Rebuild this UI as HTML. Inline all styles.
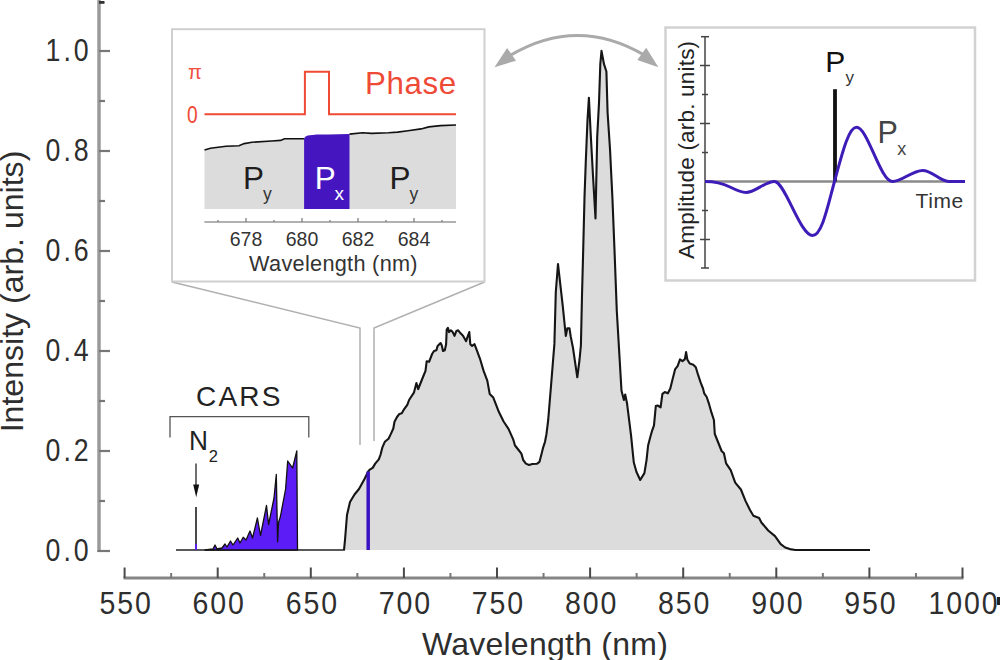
<!DOCTYPE html>
<html><head><meta charset="utf-8">
<style>
html,body{margin:0;padding:0;background:#fff;width:1000px;height:660px;overflow:hidden;}
svg{display:block;}
text{font-family:"Liberation Sans", sans-serif;}
</style></head>
<body>
<svg width="1000" height="660" viewBox="0 0 1000 660">
<rect x="0" y="0" width="1000" height="660" fill="#fff"/>

<!-- ===== main y axis ===== -->
<g id="yaxis">
<line x1="99" y1="0" x2="99" y2="552" stroke="#9a9a9a" stroke-width="3.5"/>
<rect x="99" y="1" width="5.5" height="2.8" fill="#333"/>
<g stroke="#777" stroke-width="2.2">
<line x1="99" y1="51" x2="110" y2="51"/>
<line x1="99" y1="151" x2="110" y2="151"/>
<line x1="99" y1="251" x2="110" y2="251"/>
<line x1="99" y1="351" x2="110" y2="351"/>
<line x1="99" y1="451" x2="110" y2="451"/>
<line x1="97.5" y1="551" x2="110" y2="551"/>
<line x1="99" y1="101" x2="105" y2="101"/>
<line x1="99" y1="201" x2="105" y2="201"/>
<line x1="99" y1="301" x2="105" y2="301"/>
<line x1="99" y1="401" x2="105" y2="401"/>
<line x1="99" y1="501" x2="105" y2="501"/>
</g>
<g font-size="32" fill="#2e2e2e" text-anchor="end" letter-spacing="3.5">
<text transform="translate(91.5,61) scale(0.835,1)">1.0</text>
<text transform="translate(91.5,161) scale(0.835,1)">0.8</text>
<text transform="translate(91.5,261) scale(0.835,1)">0.6</text>
<text transform="translate(91.5,361) scale(0.835,1)">0.4</text>
<text transform="translate(91.5,461) scale(0.835,1)">0.2</text>
<text transform="translate(91.5,561) scale(0.835,1)">0.0</text>
</g>
<text transform="translate(23,291.5) rotate(-90)" font-size="32.1" fill="#2e2e2e" text-anchor="middle">Intensity (arb. units)</text>
</g>

<!-- ===== main x axis ===== -->
<g id="xaxis">
<line x1="123.5" y1="578" x2="963.5" y2="578" stroke="#858585" stroke-width="3.2"/>
<g stroke="#4a4a4a" stroke-width="2">
<line x1="124.6" y1="567.5" x2="124.6" y2="578"/>
<line x1="217.7" y1="567.5" x2="217.7" y2="578"/>
<line x1="310.8" y1="567.5" x2="310.8" y2="578"/>
<line x1="403.9" y1="567.5" x2="403.9" y2="578"/>
<line x1="497" y1="567.5" x2="497" y2="578"/>
<line x1="590.1" y1="567.5" x2="590.1" y2="578"/>
<line x1="683.2" y1="567.5" x2="683.2" y2="578"/>
<line x1="776.3" y1="567.5" x2="776.3" y2="578"/>
<line x1="869.4" y1="567.5" x2="869.4" y2="578"/>
<line x1="962.5" y1="567.5" x2="962.5" y2="578"/>
</g>
<g stroke="#777" stroke-width="2">
<line x1="171.15" y1="573" x2="171.15" y2="578"/>
<line x1="264.25" y1="573" x2="264.25" y2="578"/>
<line x1="357.35" y1="573" x2="357.35" y2="578"/>
<line x1="450.45" y1="573" x2="450.45" y2="578"/>
<line x1="543.55" y1="573" x2="543.55" y2="578"/>
<line x1="636.65" y1="573" x2="636.65" y2="578"/>
<line x1="729.75" y1="573" x2="729.75" y2="578"/>
<line x1="822.85" y1="573" x2="822.85" y2="578"/>
<line x1="915.95" y1="573" x2="915.95" y2="578"/>
</g>
<g font-size="31.5" fill="#2e2e2e" text-anchor="middle" letter-spacing="2.1">
<text transform="translate(126.1,614) scale(0.905,1)">550</text>
<text transform="translate(219.2,614) scale(0.905,1)">600</text>
<text transform="translate(312.3,614) scale(0.905,1)">650</text>
<text transform="translate(405.4,614) scale(0.905,1)">700</text>
<text transform="translate(498.5,614) scale(0.905,1)">750</text>
<text transform="translate(591.6,614) scale(0.905,1)">800</text>
<text transform="translate(684.7,614) scale(0.905,1)">850</text>
<text transform="translate(777.8,614) scale(0.905,1)">900</text>
<text transform="translate(870.9,614) scale(0.905,1)">950</text>
<text transform="translate(964.0,614) scale(0.905,1)">1000</text>
</g>
<rect x="997" y="597" width="3" height="8" fill="#222"/>
<text x="545" y="654.5" font-size="32" letter-spacing="0.25" fill="#2e2e2e" text-anchor="middle">Wavelength (nm)</text>
</g>

<!-- ===== main spectrum ===== -->
<path id="mainfill" fill="#dcdcdc" stroke="none" d="M344 550 L345 540 L347 515 L350 502 L354.5 494.5 L359 489 L364.5 479 L368.2 471.5 L369.7 469.7 L372.7 467.9 L375.2 463.6 L378.8 459.4 L380.6 454.5 L382.4 447.3 L384.8 441.8 L388.5 438.8 L390.9 433.9 L393.3 428.5 L394.5 421.8 L397 417 L399.4 413.9 L401.8 413.3 L404.2 409.1 L407.3 404.8 L409.1 400 L413.9 392.7 L416.4 383 L418.2 389.1 L419.4 386 L423 377 L425.5 370.9 L426.7 361.2 L429.1 361.8 L432.1 354 L434 351 L436.4 350.3 L437.6 346 L440.6 343 L441.8 345.5 L443 351 L444.8 350.3 L446.1 344.2 L446.7 329.7 L447.9 327.9 L449.1 332.1 L450.9 330.3 L452.7 332.1 L454.5 335.8 L456.4 330.9 L458.2 330.3 L460.6 333.3 L463 335.8 L466.1 341.2 L467.9 335.8 L469.3 332.1 L470.3 344.2 L472.1 346 L474.5 344.2 L476.4 349.1 L480 358.8 L483.6 370.9 L487.3 380.6 L489.7 393.9 L493.3 397.6 L498.8 411.8 L503.6 421.5 L508.5 428.8 L513.3 439.7 L515 445.5 L518.6 450 L521.4 453.6 L523.2 460 L525.9 463.6 L529.1 465 L532.3 464 L536.8 463.8 L539.5 461.8 L541.4 454.5 L543.2 447.3 L545 441.8 L546.4 434.5 L547.3 427.3 L548.2 420 L551 386 L554.4 343.9 L555.8 292 L558 264 L562.8 306.3 L565.8 336 L567.3 328.4 L569.5 328.4 L570.7 336.4 L573 348 L577.3 377.3 L579.5 360 L580.9 345.5 L582 295.5 L583.2 250 L584.5 197.6 L585.8 161.2 L587.5 120 L588.9 97.7 L590.6 132 L593 175.8 L595.5 218.5 L597.2 137 L599 103 L600.3 64.2 L601.5 50.9 L604 64.2 L606.4 71.5 L607.6 112.7 L610 149 L612.4 197.6 L614.5 250 L616.8 311 L621.5 390.8 L623.9 400 L625.2 394.5 L627 403.2 L631.1 435.9 L632.7 451.8 L633.8 462.5 L636.5 472 L640.2 480 L644.4 473.1 L646.5 460.3 L648.1 445.5 L650.3 437 L651.8 431.7 L654 425.3 L655.8 406.1 L657.6 405.5 L660.6 407.3 L662.4 393.9 L664.8 392.1 L667.9 393.3 L670.3 388.5 L672.7 378.8 L675.2 369.1 L677.6 366.1 L680 359.4 L682.4 361.2 L684.8 359.4 L686.1 352.1 L687.3 359.4 L689.7 363.6 L693.3 364.8 L695.8 367.3 L698.2 375.2 L700.6 382.4 L703 388.5 L704.2 393.3 L706.7 397 L709.1 404.2 L711.5 412.7 L713.9 420 L714.8 434 L717 439.5 L721.6 451 L723.9 453.2 L726.1 463.4 L730.7 470.2 L735.2 482.7 L740.9 489.5 L745.5 500.9 L750 510 L753.4 515.7 L759.1 518 L761.4 522.5 L768.2 530.5 L775 536.1 L780.7 544.1 L785.2 547.5 L789.8 549.1 L795.5 550 L870 550 Z"/>
<path id="mainline" fill="none" stroke="#151515" stroke-width="2.1" stroke-linejoin="round" d="M344 550 L345 540 L347 515 L350 502 L354.5 494.5 L359 489 L364.5 479 L368.2 471.5 L369.7 469.7 L372.7 467.9 L375.2 463.6 L378.8 459.4 L380.6 454.5 L382.4 447.3 L384.8 441.8 L388.5 438.8 L390.9 433.9 L393.3 428.5 L394.5 421.8 L397 417 L399.4 413.9 L401.8 413.3 L404.2 409.1 L407.3 404.8 L409.1 400 L413.9 392.7 L416.4 383 L418.2 389.1 L419.4 386 L423 377 L425.5 370.9 L426.7 361.2 L429.1 361.8 L432.1 354 L434 351 L436.4 350.3 L437.6 346 L440.6 343 L441.8 345.5 L443 351 L444.8 350.3 L446.1 344.2 L446.7 329.7 L447.9 327.9 L449.1 332.1 L450.9 330.3 L452.7 332.1 L454.5 335.8 L456.4 330.9 L458.2 330.3 L460.6 333.3 L463 335.8 L466.1 341.2 L467.9 335.8 L469.3 332.1 L470.3 344.2 L472.1 346 L474.5 344.2 L476.4 349.1 L480 358.8 L483.6 370.9 L487.3 380.6 L489.7 393.9 L493.3 397.6 L498.8 411.8 L503.6 421.5 L508.5 428.8 L513.3 439.7 L515 445.5 L518.6 450 L521.4 453.6 L523.2 460 L525.9 463.6 L529.1 465 L532.3 464 L536.8 463.8 L539.5 461.8 L541.4 454.5 L543.2 447.3 L545 441.8 L546.4 434.5 L547.3 427.3 L548.2 420 L551 386 L554.4 343.9 L555.8 292 L558 264 L562.8 306.3 L565.8 336 L567.3 328.4 L569.5 328.4 L570.7 336.4 L573 348 L577.3 377.3 L579.5 360 L580.9 345.5 L582 295.5 L583.2 250 L584.5 197.6 L585.8 161.2 L587.5 120 L588.9 97.7 L590.6 132 L593 175.8 L595.5 218.5 L597.2 137 L599 103 L600.3 64.2 L601.5 50.9 L604 64.2 L606.4 71.5 L607.6 112.7 L610 149 L612.4 197.6 L614.5 250 L616.8 311 L621.5 390.8 L623.9 400 L625.2 394.5 L627 403.2 L631.1 435.9 L632.7 451.8 L633.8 462.5 L636.5 472 L640.2 480 L644.4 473.1 L646.5 460.3 L648.1 445.5 L650.3 437 L651.8 431.7 L654 425.3 L655.8 406.1 L657.6 405.5 L660.6 407.3 L662.4 393.9 L664.8 392.1 L667.9 393.3 L670.3 388.5 L672.7 378.8 L675.2 369.1 L677.6 366.1 L680 359.4 L682.4 361.2 L684.8 359.4 L686.1 352.1 L687.3 359.4 L689.7 363.6 L693.3 364.8 L695.8 367.3 L698.2 375.2 L700.6 382.4 L703 388.5 L704.2 393.3 L706.7 397 L709.1 404.2 L711.5 412.7 L713.9 420 L714.8 434 L717 439.5 L721.6 451 L723.9 453.2 L726.1 463.4 L730.7 470.2 L735.2 482.7 L740.9 489.5 L745.5 500.9 L750 510 L753.4 515.7 L759.1 518 L761.4 522.5 L768.2 530.5 L775 536.1 L780.7 544.1 L785.2 547.5 L789.8 549.1 L795.5 550 L870 550"/>
<line x1="176" y1="550" x2="345" y2="550" stroke="#222" stroke-width="1.6"/>
<line x1="368.2" y1="471.5" x2="368.2" y2="550" stroke="#3a12c4" stroke-width="3.5"/>

<!-- ===== CARS ===== -->
<path fill="#5b1cf5" stroke="#111" stroke-width="1.3" stroke-linejoin="round" d="M205 550 L213 549 L215 545 L217 549 L222 548 L225 544 L227 547 L230.5 541 L233 545 L237.7 538 L240 543 L243.2 537.3 L246 540 L250 531 L252.5 538 L257.4 518 L260.5 535.5 L266.5 505.5 L268.6 524.5 L274 498 L276.3 474.5 L277.6 541.8 L278.6 522 L280.3 517 L285.6 489 L287.7 461 L292.6 468 L296.8 451 L297.5 550 Z"/>
<line x1="196" y1="507" x2="196" y2="550" stroke="#2a2a2a" stroke-width="1.7"/>
<line x1="196" y1="544" x2="196" y2="550" stroke="#5b1cf5" stroke-width="1.8"/>
<line x1="196" y1="463.5" x2="196" y2="488" stroke="#222" stroke-width="1.3"/>
<path d="M193.2 484.5 L199.2 484.5 L196.2 497.3 Z" fill="#111"/>
<text transform="translate(188.9,449.5) scale(0.92,1)" font-size="28.5" fill="#222">N</text>
<text x="208.8" y="462" font-size="16.5" fill="#222">2</text>
<text x="196" y="406" font-size="28" letter-spacing="2.2" fill="#222">CARS</text>
<path d="M170 437.6 V416.6 H308.8 V437.6" fill="none" stroke="#555" stroke-width="1.3"/>

<!-- ===== connector lines ===== -->
<path d="M172 282 L360 328 L360 445" fill="none" stroke="#b0b0b0" stroke-width="1.5"/>
<path d="M484.5 282 L374 328 L374 441" fill="none" stroke="#b0b0b0" stroke-width="1.5"/>

<!-- ===== left inset ===== -->
<rect x="172" y="29.2" width="312.5" height="252.3" fill="#fff" stroke="#cfcfcf" stroke-width="2"/>
<path d="M204.5 114.3 H304.9 V71.8 H329 V114.3 H456" fill="none" stroke="#ef4a36" stroke-width="2"/>
<text x="188" y="79" font-size="20" fill="#f05040">π</text>
<text transform="translate(187,122.8) scale(0.8,1)" font-size="24" fill="#ef4a36">0</text>
<text x="365" y="93.5" font-size="31.3" letter-spacing="0.6" fill="#ef4a36">Phase</text>
<path d="M204.5 209 L204.5 150.1 L210.4 148.2 L226 146.2 L239 145.8 L244.2 143.6 L252 142.3 L271.5 141 L280.6 140.4 L284.5 138.7 L304 138.7 L310 136.2 L317 135.2 L330 134.8 L349.5 134.1 L362.5 132.8 L371.6 133.4 L388.5 132.8 L397.6 132.1 L408 130.8 L421 128.9 L428.8 126.9 L440.5 125.6 L456 125 L456 209 Z" fill="#dcdcdc"/>
<path d="M304.1 209 L304.1 138.5 Q305 135.5 310 135.2 L317 134.6 L330 134.4 L349.5 134 L349.5 209 Z" fill="#4516c0"/>
<path d="M204.5 150.1 L210.4 148.2 L226 146.2 L239 145.8 L244.2 143.6 L252 142.3 L271.5 141 L280.6 140.4 L284.5 138.7 L304.1 138.7" fill="none" stroke="#111" stroke-width="1.6"/>
<path d="M349.5 134.1 L362.5 132.8 L371.6 133.4 L388.5 132.8 L397.6 132.1 L408 130.8 L421 128.9 L428.8 126.9 L440.5 125.6 L456 125" fill="none" stroke="#111" stroke-width="1.6"/>
<g font-size="31.5" fill="#1e1e1e">
<text x="243" y="188.5">P</text>
<text x="389.5" y="188.5">P</text>
</g>
<g font-size="17.5" fill="#333">
<text x="263" y="199.8">y</text>
<text x="409.5" y="199.8">y</text>
</g>
<text x="314.8" y="188.5" font-size="31.5" fill="#fff">P</text>
<text x="334.5" y="199.8" font-size="19" fill="#fff">x</text>
<line x1="204.4" y1="222" x2="456" y2="222" stroke="#999" stroke-width="1.5"/>
<g stroke="#777" stroke-width="1.2">
<line x1="246" y1="218" x2="246" y2="222"/>
<line x1="302" y1="218" x2="302" y2="222"/>
<line x1="358" y1="218" x2="358" y2="222"/>
<line x1="414" y1="218" x2="414" y2="222"/>
<line x1="218" y1="220" x2="218" y2="222"/>
<line x1="274" y1="220" x2="274" y2="222"/>
<line x1="330" y1="220" x2="330" y2="222"/>
<line x1="386" y1="220" x2="386" y2="222"/>
<line x1="442" y1="220" x2="442" y2="222"/>
</g>
<g font-size="19.5" fill="#333" text-anchor="middle">
<text x="246" y="245.5">678</text>
<text x="302" y="245.5">680</text>
<text x="358" y="245.5">682</text>
<text x="414" y="245.5">684</text>
</g>
<text x="333.5" y="270.7" font-size="21.7" letter-spacing="0.3" fill="#333" text-anchor="middle">Wavelength (nm)</text>

<!-- ===== double arrow ===== -->
<path d="M510 55.5 Q577.5 15.4 645 55.5" fill="none" stroke="#aaaaaa" stroke-width="3"/>
<path d="M494.5 67.2 L507.1 48.1 L516 60.7 Z" fill="#aaaaaa"/>
<path d="M658.4 67.2 L646.2 47.7 L637.3 60 Z" fill="#aaaaaa"/>

<!-- ===== right inset ===== -->
<rect x="665.5" y="27.5" width="309.5" height="253" fill="#fff" stroke="#d2d2d2" stroke-width="2.5"/>
<line x1="705" y1="36.7" x2="705" y2="268" stroke="#444" stroke-width="1.5"/>
<g stroke="#444" stroke-width="1.5">
<line x1="701" y1="36.7" x2="709" y2="36.7"/>
<line x1="700" y1="65.5" x2="710" y2="65.5"/>
<line x1="702" y1="94.5" x2="708" y2="94.5"/>
<line x1="700" y1="123.5" x2="710" y2="123.5"/>
<line x1="702" y1="152.5" x2="708" y2="152.5"/>
<line x1="702" y1="210.5" x2="708" y2="210.5"/>
<line x1="700" y1="239.5" x2="710" y2="239.5"/>
<line x1="701" y1="268" x2="709" y2="268"/>
</g>
<text transform="translate(694.2,149.8) rotate(-90)" font-size="22.5" letter-spacing="0.2" fill="#222" text-anchor="middle">Amplitude (arb. units)</text>
<line x1="704" y1="181.5" x2="965" y2="181.5" stroke="#8a8a8a" stroke-width="2.5"/>
<line x1="835" y1="89.2" x2="835" y2="181.5" stroke="#111" stroke-width="3.8"/>
<path d="M705 181.5 C715 181.5 722 183 730 187 C738 191 742 192.5 746 192.5 C755 192.5 765 181.5 774.5 181.5 C785 181.5 800 235.5 812.7 235.5 C822 235.5 828 205 834.5 181.5 C841 158 848 127.3 856.5 127.3 C868 127.3 880 181.5 892.7 181.5 C902 181.5 912 170.4 922.7 170.4 C932 170.4 940 181.5 948.6 181.5 L965 181.5" fill="none" stroke="#3d1cb8" stroke-width="3"/>
<text x="825.2" y="72" font-size="30" fill="#111">P</text>
<text x="845.6" y="83.2" font-size="17" fill="#333">y</text>
<text x="877.6" y="143" font-size="30.5" fill="#444">P</text>
<text x="897.3" y="154.5" font-size="18" fill="#444">x</text>
<text x="915.5" y="207.7" font-size="21" letter-spacing="0.6" fill="#333">Time</text>

</svg>
</body></html>
